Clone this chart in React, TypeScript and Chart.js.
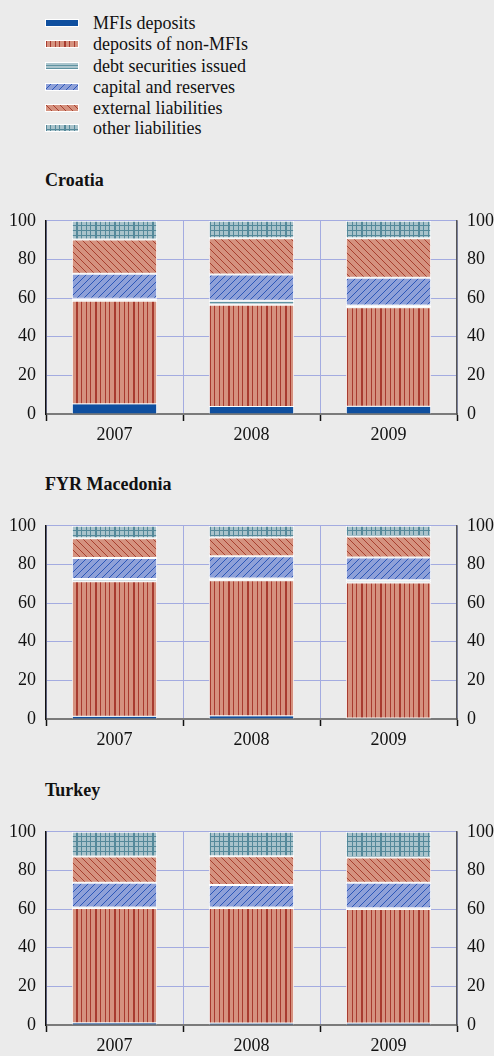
import React, { useEffect, useRef } from "react";
import { Chart, registerables } from "chart.js";
Chart.register(...registerables);

const years = ["2007", "2008", "2009"];
const seriesNames = [
  "MFIs deposits",
  "deposits of non-MFIs",
  "debt securities issued",
  "capital and reserves",
  "external liabilities",
  "other liabilities",
];

// Croatia
const croatiaMFI = [5.0, 3.6, 3.7];
const croatiaNonMFI = [53.6, 53.0, 51.5];
const croatiaDebt = [1.0, 2.0, 1.0];
const croatiaCapital = [13.0, 13.6, 14.3];
const croatiaExternal = [17.7, 18.8, 20.5];
const croatiaOther = [9.7, 9.0, 9.0];

// FYR Macedonia
const macedoniaMFI = [1.2, 1.4, 0.3];
const macedoniaNonMFI = [70.1, 70.4, 70.3];
const macedoniaDebt = [1.1, 0.9, 1.2];
const macedoniaCapital = [10.9, 11.6, 11.8];
const macedoniaExternal = [10.2, 9.7, 10.8];
const macedoniaOther = [6.5, 6.0, 5.6];

// Turkey
const turkeyMFI = [0.85, 0.8, 0.8];
const turkeyNonMFI = [59.75, 59.8, 59.3];
const turkeyDebt = [0.2, 0.2, 0.3];
const turkeyCapital = [12.8, 11.6, 13.2];
const turkeyExternal = [13.6, 15.0, 13.1];
const turkeyOther = [12.8, 12.6, 13.3];

const FONT = '"Liberation Serif", "Times New Roman", serif';
const GRID = "#a3abe0";
const TEXT = "#111";

function makeTile(w: number, h: number, draw: (g: CanvasRenderingContext2D) => void) {
  const c = document.createElement("canvas");
  c.width = w;
  c.height = h;
  const g = c.getContext("2d")!;
  draw(g);
  return g.createPattern(c, "repeat")!;
}

function makePatterns(): (string | CanvasPattern)[] {
  const mfi = "#0f4f9f";
  const nonMfi = makeTile(19, 4, (g) => {
    g.fillStyle = "#d5927f";
    g.fillRect(0, 0, 19, 4);
    g.fillStyle = "#a83b2f";
    g.fillRect(0, 0, 2, 4);
    g.fillRect(5, 0, 1, 4);
    g.fillRect(10, 0, 1, 4);
    g.fillRect(14, 0, 1, 4);
  });
  const debt = makeTile(4, 3, (g) => {
    g.fillStyle = "#abc5cd";
    g.fillRect(0, 0, 4, 3);
    g.fillStyle = "#5f93a1";
    g.fillRect(0, 0, 4, 1);
  });
  const capital = makeTile(7, 7, (g) => {
    g.fillStyle = "#8ea0d8";
    g.fillRect(0, 0, 7, 7);
    g.fillStyle = "#2c57b8";
    for (let i = 0; i < 7; i++) g.fillRect(i, 6 - i, 1, 1);
  });
  const external = makeTile(7, 7, (g) => {
    g.fillStyle = "#d5927f";
    g.fillRect(0, 0, 7, 7);
    g.fillStyle = "#a8402f";
    for (let i = 0; i < 7; i++) g.fillRect(i, i, 1, 1);
  });
  const other = makeTile(19, 5, (g) => {
    g.fillStyle = "#a9c3cb";
    g.fillRect(0, 0, 19, 5);
    g.fillStyle = "#55899a";
    g.fillRect(0, 0, 2, 5);
    g.fillRect(5, 0, 1, 5);
    g.fillRect(10, 0, 1, 5);
    g.fillRect(14, 0, 1, 5);
    g.fillRect(0, 0, 19, 1);
  });
  return [mfi, nonMfi, debt, capital, external, other];
}

function Panel({ top, series }: { top: number; series: number[][] }) {
  const ref = useRef<HTMLCanvasElement>(null);
  useEffect(() => {
    const pats = makePatterns();
    const chart = new Chart(ref.current!, {
      type: "bar",
      data: {
        labels: years,
        datasets: series.map((d, i) => ({
          label: seriesNames[i],
          data: d,
          backgroundColor: pats[i] as any,
          borderColor: "#ffffff",
          borderWidth: i === 0 ? { top: 0, bottom: 0, left: 1, right: 1 } : 1,
          borderSkipped: false,
          barPercentage: 1,
          categoryPercentage: 0.623,
        })),
      },
      options: {
        animation: false,
        responsive: false,
        layout: { padding: { top: 19, left: 0, right: 0, bottom: 0 } },
        plugins: { legend: { display: false }, tooltip: { enabled: false } },
        scales: {
          x: {
            stacked: true,
            offset: true,
            grid: {
              offset: true,
              color: GRID,
              lineWidth: 1,
              drawTicks: true,
              tickLength: 7,
              tickColor: "#111",
              tickWidth: 1.5,
            },
            border: { display: true, color: "#7a7a7a", width: 2 },
            ticks: { color: TEXT, font: { size: 18, family: FONT }, padding: 3, maxRotation: 0 },
            afterFit: (s: any) => {
              s.height = 36;
            },
          },
          y: {
            stacked: true,
            min: 0,
            max: 100,
            position: "left",
            ticks: { stepSize: 20, color: TEXT, font: { size: 18, family: FONT }, padding: 10 },
            grid: {
              color: (c: any) => (c.tick && c.tick.value === 0 ? "rgba(0,0,0,0)" : GRID),
              drawTicks: false,
              lineWidth: 1,
            },
            border: { display: true, color: "#111", width: 1.5 },
            afterFit: (s: any) => {
              s.width = 46;
            },
          },
          y2: {
            min: 0,
            max: 100,
            position: "right",
            ticks: { stepSize: 20, color: TEXT, font: { size: 18, family: FONT }, padding: 10 },
            grid: { drawOnChartArea: false, drawTicks: false },
            border: { display: true, color: "#555", width: 1.5 },
            afterFit: (s: any) => {
              s.width = 37;
            },
          },
        },
      } as any,
    });
    return () => chart.destroy();
  }, []);
  return (
    <canvas
      ref={ref}
      width={494}
      height={250}
      style={{ position: "absolute", left: 0, top, width: 494, height: 250 }}
    />
  );
}

function Swatch({ idx }: { idx: number }) {
  const ref = useRef<HTMLCanvasElement>(null);
  useEffect(() => {
    const c = ref.current!;
    const g = c.getContext("2d")!;
    const pats = makePatterns();
    g.fillStyle = "#ffffff";
    g.fillRect(0, 0, 34, 8);
    g.fillStyle = pats[idx] as any;
    g.fillRect(1, 1, 32, 6);
  }, []);
  return <canvas ref={ref} width={34} height={8} style={{ position: "absolute", left: 45, top: 7, width: 34, height: 8 }} />;
}

const legendRowCenters = [23, 44, 66, 87, 108, 128];

export default function App() {
  const titleStyle = (center: number): React.CSSProperties => ({
    position: "absolute",
    left: 45,
    top: center - 11,
    lineHeight: "22px",
    fontSize: 18,
    fontWeight: "bold",
    fontFamily: FONT,
    color: TEXT,
  });
  return (
    <div
      style={{
        position: "absolute",
        left: 0,
        top: 0,
        width: 494,
        height: 1056,
        background: "#ebebeb",
        overflow: "hidden",
        fontFamily: FONT,
      }}
    >
      {seriesNames.map((n, i) => (
        <div
          key={n}
          style={{ position: "absolute", left: 0, top: legendRowCenters[i] - 11, height: 22, width: 494 }}
        >
          <Swatch idx={i} />
          <div style={{ position: "absolute", left: 93, top: 0, lineHeight: "22px", fontSize: 18, color: TEXT, whiteSpace: "nowrap" }}>
            {n}
          </div>
        </div>
      ))}
      <div style={titleStyle(180)}>Croatia</div>
      <Panel
        top={200}
        series={[croatiaMFI, croatiaNonMFI, croatiaDebt, croatiaCapital, croatiaExternal, croatiaOther]}
      />
      <div style={titleStyle(484)}>FYR Macedonia</div>
      <Panel
        top={505}
        series={[macedoniaMFI, macedoniaNonMFI, macedoniaDebt, macedoniaCapital, macedoniaExternal, macedoniaOther]}
      />
      <div style={titleStyle(790)}>Turkey</div>
      <Panel
        top={811}
        series={[turkeyMFI, turkeyNonMFI, turkeyDebt, turkeyCapital, turkeyExternal, turkeyOther]}
      />
    </div>
  );
}
